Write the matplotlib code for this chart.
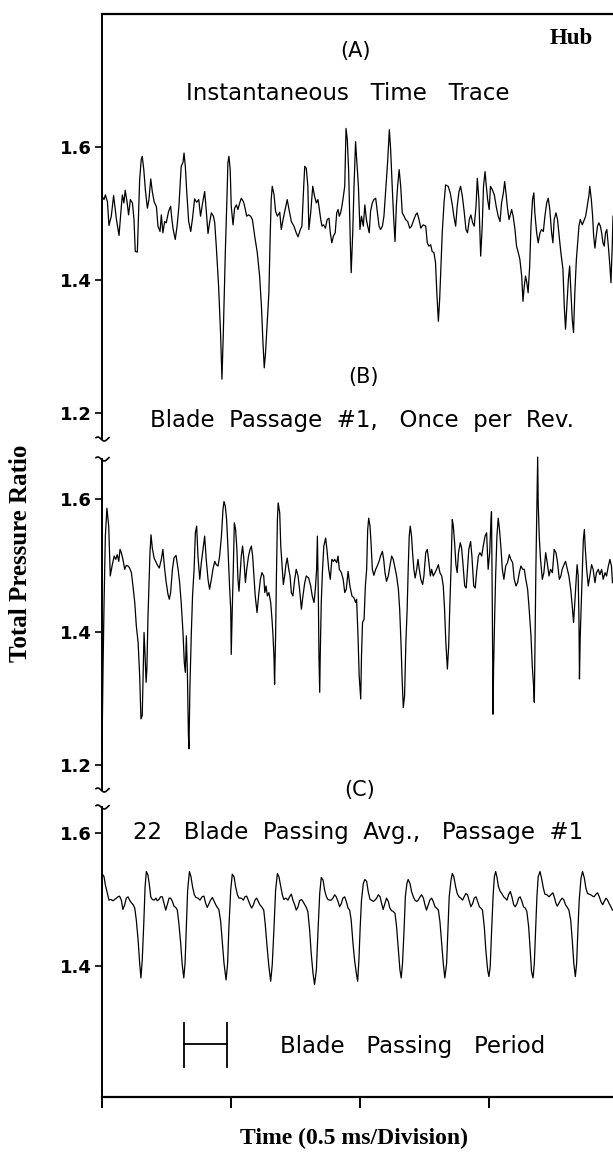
import numpy as np
import matplotlib
matplotlib.use('Agg')
import matplotlib.pyplot as plt
from matplotlib.lines import Line2D

# time in microseconds, total pressure ratio
t_a = [0, 8, 13, 21, 27, 36, 45, 56, 66, 75,
       79, 85, 90, 97, 103, 110, 118, 124, 129, 137,
       142, 146, 152, 156, 162, 168, 176, 182, 189, 195,
       202, 211, 217, 225, 230, 236, 243, 249, 258, 266,
       271, 276, 284, 291, 298, 307, 314, 318, 323, 328,
       336, 344, 351, 359, 367, 375, 382, 390, 398, 403,
       411, 417, 424, 432, 437, 443, 452, 460, 465, 470,
       478, 485, 488, 492, 497, 501, 508, 514, 521, 527,
       534, 540, 548, 553, 561, 568, 576, 583, 592, 602,
       611, 618, 624, 629, 634, 641, 647, 652, 656, 660,
       667, 673, 680, 689, 695, 702, 711, 718, 725, 734,
       744, 753, 760, 769, 775, 782, 786, 792, 798, 802,
       809, 817, 824, 831, 837, 841, 848, 853, 859, 866,
       873, 880, 885, 891, 897, 904, 910, 915, 920, 925,
       930, 934, 941, 946, 951, 956, 963, 966, 972, 977,
       983, 994, 1000, 1006, 1013, 1019, 1025, 1030, 1036, 1041,
       1048, 1054, 1061, 1067, 1074, 1080, 1087, 1093, 1101, 1107,
       1114, 1119, 1125, 1131, 1136, 1141, 1146, 1152, 1158, 1164,
       1171, 1177, 1185, 1193, 1200, 1209, 1216, 1222, 1229, 1236,
       1245, 1255, 1261, 1267, 1274, 1280, 1287, 1293, 1298, 1304,
       1309, 1314, 1319, 1326, 1332, 1342, 1350, 1358, 1364, 1371,
       1377, 1384, 1390, 1397, 1404, 1411, 1417, 1424, 1430, 1437,
       1443, 1450, 1455, 1461, 1468, 1474, 1479, 1485, 1490, 1495,
       1501, 1506, 1513, 1521, 1528, 1536, 1543, 1549, 1556, 1561,
       1566, 1572, 1578, 1583, 1588, 1594, 1601, 1607, 1614, 1620,
       1627, 1632, 1637, 1642, 1647, 1652, 1658, 1663, 1669, 1674,
       1678, 1685, 1691, 1698, 1704, 1711, 1717, 1724, 1730, 1736,
       1743, 1748, 1753, 1760, 1766, 1771, 1779, 1787, 1792, 1797,
       1802, 1808, 1813, 1818, 1823, 1828, 1833, 1839, 1844, 1849,
       1854, 1862, 1870, 1875, 1881, 1888, 1891, 1897, 1902, 1906,
       1911, 1916, 1921, 1926, 1932, 1937, 1942, 1947, 1952, 1957,
       1963, 1969, 1973, 1978, 1981]
p_a = [1.526, 1.521, 1.528, 1.518, 1.482, 1.496, 1.527, 1.491, 1.467, 1.511,
       1.528, 1.516, 1.535, 1.518, 1.498, 1.521, 1.516, 1.491, 1.443, 1.442,
       1.501, 1.551, 1.581, 1.586, 1.566, 1.536, 1.508, 1.521, 1.552, 1.533,
       1.518, 1.510, 1.481, 1.473, 1.498, 1.471, 1.488, 1.486, 1.503, 1.511,
       1.491, 1.476, 1.461, 1.481, 1.510, 1.571, 1.577, 1.591, 1.571, 1.536,
       1.488, 1.473, 1.493, 1.522, 1.517, 1.521, 1.496, 1.516, 1.533, 1.510,
       1.470, 1.486, 1.501, 1.496, 1.486, 1.451, 1.391, 1.316, 1.251, 1.316,
       1.441, 1.531, 1.576, 1.586, 1.566, 1.511, 1.483, 1.508, 1.513, 1.506,
       1.516, 1.523, 1.518, 1.511, 1.496, 1.498, 1.496, 1.491, 1.466, 1.441,
       1.406, 1.361, 1.306, 1.268, 1.291, 1.341, 1.381, 1.466, 1.521, 1.541,
       1.528, 1.503, 1.496, 1.502, 1.476, 1.491, 1.508, 1.521, 1.506, 1.488,
       1.481, 1.471, 1.465, 1.476, 1.481, 1.541, 1.571, 1.568, 1.541, 1.476,
       1.501, 1.541, 1.526, 1.516, 1.521, 1.511, 1.491, 1.481, 1.483, 1.478,
       1.491, 1.493, 1.471, 1.456, 1.466, 1.471, 1.501, 1.506, 1.496, 1.501,
       1.511, 1.521, 1.541, 1.628, 1.611, 1.566, 1.451, 1.411, 1.471, 1.541,
       1.608, 1.541, 1.476, 1.496, 1.481, 1.513, 1.491, 1.481, 1.471, 1.503,
       1.516, 1.521, 1.523, 1.503, 1.481, 1.476, 1.481, 1.496, 1.541, 1.576,
       1.626, 1.596, 1.541, 1.491, 1.458, 1.511, 1.541, 1.566, 1.541, 1.501,
       1.496, 1.491, 1.488, 1.478, 1.481, 1.491, 1.498, 1.501, 1.491, 1.478,
       1.483, 1.481, 1.456, 1.451, 1.453, 1.443, 1.441, 1.426, 1.381, 1.338,
       1.371, 1.421, 1.471, 1.516, 1.543, 1.541, 1.531, 1.513, 1.496, 1.481,
       1.511, 1.533, 1.541, 1.526, 1.503, 1.476, 1.471, 1.491, 1.498, 1.486,
       1.481, 1.511, 1.553, 1.521, 1.436, 1.481, 1.541, 1.563, 1.541, 1.521,
       1.506, 1.541, 1.536, 1.528, 1.511, 1.496, 1.488, 1.516, 1.531, 1.548,
       1.531, 1.508, 1.491, 1.498, 1.506, 1.496, 1.476, 1.451, 1.441, 1.431,
       1.406, 1.368, 1.391, 1.406, 1.396, 1.381, 1.421, 1.481, 1.521, 1.531,
       1.501, 1.471, 1.456, 1.471, 1.476, 1.473, 1.496, 1.516, 1.523, 1.506,
       1.471, 1.456, 1.491, 1.501, 1.491, 1.471, 1.441, 1.416, 1.361, 1.326,
       1.361, 1.401, 1.421, 1.381, 1.341, 1.321, 1.381, 1.431, 1.456, 1.481,
       1.491, 1.483, 1.491, 1.496, 1.511, 1.528, 1.541, 1.521, 1.496, 1.466,
       1.448, 1.466, 1.481, 1.486, 1.481, 1.471, 1.456, 1.451, 1.471, 1.476,
       1.451, 1.421, 1.396, 1.451, 1.496]

t_b = [0, 4, 8, 13, 19, 26, 32, 39, 47, 53,
       59, 65, 70, 75, 81, 88, 94, 101, 107, 114,
       120, 127, 133, 140, 146, 151, 156, 160, 163, 167,
       171, 174, 178, 182, 186, 190, 195, 202, 208, 214,
       222, 230, 236, 243, 249, 256, 261, 266, 273, 279,
       287, 295, 301, 307, 314, 319, 323, 327, 331, 335,
       337, 341, 346, 351, 357, 362, 367, 372, 379, 385,
       393, 398, 404, 411, 417, 424, 430, 437, 443, 450,
       456, 463, 469, 473, 478, 483, 488, 495, 499, 501,
       505, 509, 513, 518, 523, 527, 531, 535, 540, 545,
       550, 556, 561, 568, 574, 579, 584, 589, 594, 601,
       607, 614, 620, 627, 631, 636, 641, 647, 654, 659,
       663, 667, 669, 673, 676, 680, 683, 689, 693, 698,
       703, 708, 713, 718, 724, 729, 734, 740, 747, 753,
       760, 766, 773, 779, 786, 792, 801, 809, 815, 822,
       827, 832, 835, 839, 841, 844, 846, 850, 855, 860,
       867, 872, 879, 885, 891, 897, 902, 910, 915, 920,
       928, 935, 941, 947, 954, 961, 969, 977, 983, 987,
       992, 997, 1003, 1006, 1010, 1016, 1021, 1026, 1030, 1034,
       1039, 1043, 1048, 1054, 1061, 1067, 1074, 1080, 1087, 1092,
       1097, 1103, 1110, 1116, 1123, 1129, 1136, 1142, 1149, 1154,
       1159, 1164, 1168, 1173, 1178, 1183, 1187, 1191, 1195, 1200,
       1204, 1209, 1214, 1220, 1225, 1230, 1236, 1243, 1248, 1255,
       1261, 1266, 1273, 1278, 1284, 1291, 1297, 1304, 1310, 1317,
       1323, 1328, 1333, 1339, 1344, 1348, 1353, 1358, 1362, 1367,
       1372, 1377, 1382, 1389, 1394, 1399, 1406, 1412, 1417, 1422,
       1429, 1434, 1441, 1447, 1452, 1459, 1465, 1472, 1478, 1485,
       1491, 1497, 1503, 1508, 1510, 1513, 1516, 1518, 1522, 1526,
       1531, 1536, 1541, 1547, 1552, 1558, 1565, 1572, 1579, 1585,
       1592, 1598, 1605, 1611, 1618, 1624, 1631, 1637, 1643, 1650,
       1656, 1663, 1668, 1673, 1676, 1678, 1682, 1686, 1689, 1691,
       1695, 1700, 1707, 1713, 1720, 1726, 1733, 1739, 1746, 1753,
       1760, 1766, 1773, 1779, 1784, 1791, 1797, 1804, 1810, 1817,
       1823, 1828, 1833, 1839, 1842, 1846, 1849, 1851, 1854, 1858,
       1862, 1866, 1870, 1873, 1879, 1885, 1891, 1898, 1904, 1911,
       1917, 1924, 1930, 1937, 1943, 1950, 1956, 1963, 1969, 1975,
       1979]
p_b = [1.219, 1.344, 1.444, 1.544, 1.586, 1.559, 1.484, 1.499, 1.514, 1.509,
       1.516, 1.506, 1.524, 1.519, 1.509, 1.494, 1.500, 1.499, 1.496, 1.489,
       1.469, 1.444, 1.409, 1.384, 1.334, 1.269, 1.274, 1.344, 1.399, 1.364,
       1.324, 1.344, 1.419, 1.469, 1.519, 1.546, 1.526, 1.511, 1.506, 1.501,
       1.496, 1.509, 1.524, 1.494, 1.474, 1.456, 1.449, 1.459, 1.494, 1.511,
       1.515, 1.494, 1.474, 1.444, 1.399, 1.354, 1.339, 1.394, 1.339, 1.244,
       1.224, 1.319, 1.394, 1.454, 1.494, 1.549, 1.559, 1.514, 1.479, 1.504,
       1.529, 1.544, 1.509, 1.479, 1.464, 1.479, 1.494, 1.506, 1.501, 1.499,
       1.514, 1.544, 1.584, 1.596, 1.589, 1.569, 1.529, 1.464, 1.434, 1.366,
       1.434, 1.494, 1.564, 1.554, 1.524, 1.479, 1.461, 1.484, 1.514, 1.529,
       1.509, 1.474, 1.494, 1.514, 1.524, 1.529, 1.514, 1.484, 1.454, 1.429,
       1.454, 1.479, 1.489, 1.484, 1.459, 1.469, 1.454, 1.459, 1.444, 1.419,
       1.394, 1.359, 1.321, 1.394, 1.479, 1.569, 1.594, 1.579, 1.529, 1.499,
       1.471, 1.484, 1.501, 1.511, 1.494, 1.484, 1.459, 1.454, 1.479, 1.494,
       1.484, 1.464, 1.434, 1.454, 1.474, 1.484, 1.481, 1.469, 1.454, 1.444,
       1.464, 1.494, 1.544, 1.444, 1.364, 1.309, 1.364, 1.444, 1.494, 1.529,
       1.541, 1.524, 1.494, 1.479, 1.509, 1.506, 1.509, 1.504, 1.514, 1.494,
       1.489, 1.479, 1.459, 1.464, 1.491, 1.469, 1.454, 1.451, 1.444, 1.449,
       1.399, 1.334, 1.299, 1.364, 1.414, 1.419, 1.469, 1.494, 1.554, 1.571,
       1.559, 1.534, 1.494, 1.485, 1.494, 1.499, 1.506, 1.514, 1.521, 1.509,
       1.489, 1.476, 1.484, 1.499, 1.514, 1.509, 1.496, 1.484, 1.464, 1.434,
       1.384, 1.324, 1.286, 1.304, 1.384, 1.434, 1.494, 1.544, 1.559, 1.544,
       1.519, 1.494, 1.481, 1.494, 1.509, 1.494, 1.479, 1.471, 1.484, 1.519,
       1.524, 1.509, 1.484, 1.494, 1.484, 1.489, 1.494, 1.501, 1.489, 1.484,
       1.469, 1.434, 1.384, 1.344, 1.379, 1.434, 1.494, 1.569, 1.559, 1.534,
       1.501, 1.489, 1.519, 1.534, 1.526, 1.504, 1.469, 1.466, 1.494, 1.524,
       1.536, 1.514, 1.469, 1.466, 1.489, 1.514, 1.519, 1.514, 1.529, 1.544,
       1.549, 1.494, 1.519, 1.569, 1.581, 1.444, 1.276, 1.344, 1.419, 1.484,
       1.544, 1.571, 1.554, 1.524, 1.494, 1.479, 1.499, 1.504, 1.516, 1.509,
       1.504, 1.479, 1.469, 1.474, 1.489, 1.499, 1.494, 1.494, 1.479, 1.464,
       1.434, 1.394, 1.349, 1.319, 1.294, 1.364, 1.494, 1.594, 1.663, 1.594,
       1.544, 1.509, 1.479, 1.489, 1.519, 1.504, 1.484, 1.494, 1.489, 1.524,
       1.519, 1.504, 1.479, 1.484, 1.494, 1.501, 1.506, 1.494, 1.484, 1.464,
       1.439, 1.414, 1.444, 1.484, 1.501, 1.484, 1.419, 1.329, 1.394, 1.444,
       1.494, 1.539, 1.554, 1.529, 1.494, 1.469, 1.484, 1.501, 1.494, 1.474,
       1.489, 1.494, 1.486, 1.494, 1.479, 1.489, 1.484, 1.499, 1.509, 1.499,
       1.474]

t_c = [0, 8, 13, 21, 27, 34, 43, 49, 56, 62,
       68, 75, 81, 88, 94, 101, 107, 114, 121, 127,
       133, 140, 146, 151, 156, 162, 167, 172, 178, 183,
       189, 195, 202, 209, 214, 221, 227, 234, 240, 247,
       253, 260, 266, 273, 279, 286, 292, 298, 305, 311,
       317, 322, 327, 332, 339, 345, 351, 358, 364, 372,
       380, 388, 395, 402, 408, 415, 421, 428, 434, 441,
       447, 453, 460, 466, 473, 481, 487, 492, 499, 505,
       512, 518, 525, 531, 540, 548, 554, 561, 567, 574,
       580, 587, 593, 599, 606, 612, 619, 627, 633, 640,
       647, 654, 660, 667, 673, 680, 686, 693, 699, 705,
       713, 721, 727, 734, 740, 747, 753, 760, 766, 773,
       779, 786, 792, 798, 805, 811, 818, 824, 831, 837,
       844, 850, 857, 863, 870, 876, 882, 889, 895, 902,
       908, 915, 921, 928, 934, 941, 947, 954, 960, 966,
       973, 979, 986, 991, 996, 1001, 1006, 1013, 1019, 1026,
       1032, 1039, 1045, 1052, 1058, 1065, 1071, 1078, 1084, 1090,
       1097, 1103, 1110, 1116, 1123, 1129, 1136, 1142, 1149, 1155,
       1160, 1165, 1171, 1176, 1182, 1187, 1194, 1200, 1207, 1213,
       1220, 1226, 1233, 1239, 1246, 1252, 1258, 1265, 1271, 1278,
       1284, 1291, 1297, 1304, 1310, 1317, 1323, 1329, 1336, 1341,
       1346, 1353, 1358, 1364, 1371, 1377, 1384, 1391, 1398, 1404,
       1411, 1417, 1424, 1430, 1437, 1443, 1450, 1456, 1463, 1469,
       1475, 1482, 1488, 1495, 1500, 1505, 1510, 1516, 1521, 1526,
       1531, 1537, 1544, 1550, 1557, 1563, 1570, 1576, 1583, 1589,
       1596, 1602, 1609, 1615, 1621, 1628, 1634, 1641, 1647, 1654,
       1660, 1665, 1671, 1676, 1681, 1686, 1691, 1698, 1704, 1711,
       1717, 1725, 1733, 1740, 1748, 1753, 1760, 1765, 1771, 1778,
       1784, 1791, 1797, 1804, 1810, 1817, 1823, 1829, 1835, 1840,
       1845, 1850, 1857, 1863, 1870, 1876, 1882, 1889, 1895, 1902,
       1908, 1915, 1921, 1928, 1934, 1941, 1947, 1954, 1960, 1966,
       1973, 1979]
p_c = [1.539, 1.534, 1.522, 1.509, 1.499, 1.500, 1.498, 1.500, 1.502, 1.504,
       1.505, 1.499, 1.485, 1.492, 1.502, 1.504, 1.499, 1.495, 1.492, 1.487,
       1.469, 1.439, 1.404, 1.382, 1.409, 1.464, 1.519, 1.542, 1.537, 1.524,
       1.504, 1.500, 1.499, 1.502, 1.498, 1.500, 1.504, 1.504, 1.495, 1.484,
       1.492, 1.502, 1.502, 1.497, 1.490, 1.488, 1.484, 1.464, 1.434, 1.402,
       1.382, 1.404, 1.459, 1.514, 1.542, 1.534, 1.519, 1.507, 1.503, 1.502,
       1.499, 1.504, 1.505, 1.494, 1.488, 1.494, 1.499, 1.503, 1.498, 1.492,
       1.488, 1.485, 1.467, 1.437, 1.404, 1.379, 1.404, 1.459, 1.514, 1.538,
       1.534, 1.519, 1.507, 1.502, 1.502, 1.499, 1.504, 1.505, 1.499, 1.492,
       1.487, 1.492, 1.499, 1.502, 1.497, 1.492, 1.489, 1.484, 1.462, 1.429,
       1.399, 1.377, 1.402, 1.459, 1.514, 1.539, 1.534, 1.519, 1.507, 1.500,
       1.502, 1.499, 1.504, 1.508, 1.499, 1.492, 1.484, 1.489, 1.498, 1.500,
       1.497, 1.492, 1.488, 1.482, 1.454, 1.419, 1.389, 1.372, 1.394, 1.449,
       1.509, 1.533, 1.529, 1.514, 1.504, 1.500, 1.499, 1.499, 1.502, 1.507,
       1.504, 1.497, 1.489, 1.494, 1.502, 1.504, 1.497, 1.487, 1.484, 1.469,
       1.434, 1.409, 1.389, 1.377, 1.409, 1.459, 1.499, 1.524, 1.530, 1.527,
       1.512, 1.500, 1.499, 1.497, 1.499, 1.502, 1.507, 1.504, 1.494, 1.485,
       1.494, 1.502, 1.497, 1.487, 1.483, 1.482, 1.479, 1.459, 1.424, 1.394,
       1.382, 1.404, 1.454, 1.504, 1.524, 1.530, 1.524, 1.512, 1.504, 1.499,
       1.497, 1.499, 1.504, 1.507, 1.502, 1.492, 1.484, 1.492, 1.499, 1.502,
       1.497, 1.489, 1.487, 1.484, 1.467, 1.434, 1.404, 1.382, 1.404, 1.454,
       1.504, 1.529, 1.539, 1.534, 1.519, 1.509, 1.504, 1.502, 1.499, 1.504,
       1.509, 1.507, 1.497, 1.489, 1.494, 1.502, 1.504, 1.497, 1.489, 1.487,
       1.484, 1.459, 1.424, 1.394, 1.384, 1.399, 1.449, 1.504, 1.534, 1.542,
       1.534, 1.519, 1.512, 1.509, 1.504, 1.502, 1.499, 1.507, 1.512, 1.504,
       1.492, 1.489, 1.494, 1.502, 1.504, 1.497, 1.489, 1.487, 1.482, 1.459,
       1.424, 1.392, 1.382, 1.404, 1.454, 1.504, 1.534, 1.542, 1.532, 1.517,
       1.508, 1.507, 1.504, 1.507, 1.510, 1.504, 1.494, 1.490, 1.494, 1.499,
       1.502, 1.499, 1.492, 1.488, 1.484, 1.469, 1.439, 1.404, 1.384, 1.404,
       1.454, 1.499, 1.532, 1.542, 1.532, 1.517, 1.509, 1.508, 1.507, 1.505,
       1.504, 1.508, 1.510, 1.504, 1.497, 1.492, 1.497, 1.502, 1.499, 1.494,
       1.489, 1.484]

yticks_a = [1.2, 1.4, 1.6]
yticks_b = [1.2, 1.4, 1.6]
yticks_c = [1.4, 1.6]
xticks_us = [0, 500, 1000, 1500]

bar_start_us = 318
blade_period_us = 168
bar_level = 1.283

W, H = 613, 1152
fig = plt.figure(figsize=(W / 100, H / 100), dpi=100)


def fx(px):
    return px / W


def fy(py):
    return 1 - py / H


left = fx(102)
width = 1 - left
ax_a = fig.add_axes([left, fy(439), width, (439 - 14) / H])
ax_b = fig.add_axes([left, fy(790), width, (790 - 459) / H])
ax_c = fig.add_axes([left, fy(1097), width, (1097 - 807) / H])

panels = [(ax_a, t_a, p_a, (1.161, 1.8), yticks_a),
          (ax_b, t_b, p_b, (1.162, 1.66), yticks_b),
          (ax_c, t_c, p_c, (1.203, 1.639), yticks_c)]

for ax, t, p, lim, ticks in panels:
    ax.plot(t, p, color='black', lw=0.9, clip_on=False)
    ax.set_xlim(0, 1981)
    ax.set_ylim(*lim)
    ax.set_yticks(ticks)
    ax.set_yticklabels(['%.1f' % v for v in ticks], fontweight='bold')
    for s in ['right', 'bottom', 'top']:
        ax.spines[s].set_visible(False)
    ax.spines['left'].set_linewidth(1.4)
    ax.tick_params(axis='y', direction='out', length=5, width=1.2,
                   labelsize=13, pad=2)
    ax.set_xticks([])
    ax.patch.set_alpha(0)

ax_a.spines['top'].set_visible(True)
ax_a.spines['top'].set_linewidth(1.6)

ax_c.spines['bottom'].set_visible(True)
ax_c.spines['bottom'].set_linewidth(1.6)
ax_c.set_xticks(xticks_us)
ax_c.set_xticklabels([])
ax_c.tick_params(axis='x', direction='out', length=8, width=1.4)

# blade passing period bar
ax_c.plot([bar_start_us, bar_start_us + blade_period_us], [bar_level, bar_level],
          color='black', lw=1.3)
for xe in [bar_start_us, bar_start_us + blade_period_us]:
    ax_c.plot([xe, xe], [bar_level - 0.035, bar_level + 0.032], color='black', lw=1.3)

# axis break marks
for yb in [439, 459, 790, 807]:
    xs = np.linspace(-5, 8, 20)
    ys = yb + 2.0 * np.sin(xs / 13 * 2 * np.pi)
    fig.add_artist(Line2D([fx(101 + v) for v in xs], [fy(v) for v in ys],
                          color='black', lw=1.2))

sans = 'DejaVu Sans'
serif = 'Liberation Serif'
fs = 16.5
fig.text(fx(356), fy(51), '(A)', ha='center', va='center', fontsize=15, family=sans)
fig.text(fx(571), fy(39), 'Hub', ha='center', va='center', fontsize=16.5,
         family=serif, weight='bold')
fig.text(fx(348), fy(94), 'Instantaneous   Time   Trace', ha='center', va='center',
         fontsize=fs, family=sans)
fig.text(fx(364), fy(377), '(B)', ha='center', va='center', fontsize=15, family=sans)
fig.text(fx(362), fy(421), 'Blade  Passage  #1,   Once  per  Rev.', ha='center',
         va='center', fontsize=fs, family=sans)
fig.text(fx(360), fy(790), '(C)', ha='center', va='center', fontsize=15, family=sans)
fig.text(fx(358), fy(833), '22   Blade  Passing  Avg.,   Passage  #1', ha='center',
         va='center', fontsize=fs, family=sans)
fig.text(fx(280), fy(1046), 'Blade   Passing   Period', ha='left', va='center',
         fontsize=fs, family=sans)

fig.text(fx(21), fy(553), 'Total Pressure Ratio', rotation=90, ha='center',
         va='center', fontsize=18, family=serif, weight='bold')
fig.text(fx(354), fy(1138), 'Time (0.5 ms/Division)', ha='center', va='center',
         fontsize=17, family=serif, weight='bold')

fig.savefig('out.png', dpi=100)
